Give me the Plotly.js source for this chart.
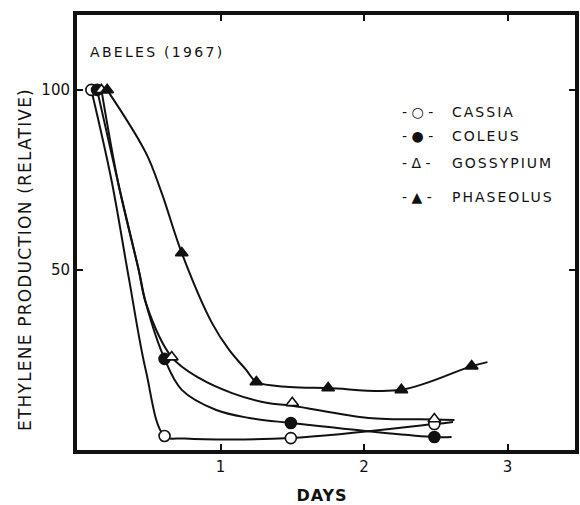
<!DOCTYPE html>
<html>
<head>
<meta charset="utf-8">
<script src="https://cdn.plot.ly/plotly-3.0.1.min.js"></script>
<style>
  html, body { margin: 0; padding: 0; background: #fff; }
  #chart { width: 580px; height: 505px; }
</style>
</head>
<body>
<div id="chart"></div>
<script>
// ---- Data (Abeles 1967) ----
// Measured points (markers)
const cassiaDays      = [0.10, 0.61, 1.49, 2.49];
const cassiaEthylene  = [100, 3.9, 3.3, 7.2];
const coleusDays      = [0.14, 0.61, 1.49, 2.49];
const coleusEthylene  = [100, 25.3, 7.5, 3.6];
const gossypDays      = [0.17, 0.66, 1.50, 2.49];
const gossypEthylene  = [100, 25.8, 13.1, 8.6];
const phaseolDays     = [0.21, 0.73, 1.25, 1.75, 2.26, 2.75];
const phaseolEthylene = [100, 54.7, 18.9, 17.2, 16.7, 23.3];

// Hand-drawn fitted curves
const cassiaCurveDays      = [0.10, 0.24, 0.36, 0.48, 0.61, 0.75, 1.49, 2.49, 2.62];
const cassiaCurveEthylene  = [100, 75, 48, 22, 3.9, 3.2, 3.3, 7.2, 7.8];
const coleusCurveDays      = [0.14, 0.29, 0.43, 0.48, 0.61, 0.73, 0.97, 1.20, 1.49, 2.49, 2.61];
const coleusCurveEthylene  = [100, 73.6, 50, 40.8, 25.3, 16.7, 11.1, 8.9, 7.5, 3.6, 3.6];
const gossypCurveDays      = [0.17, 0.29, 0.43, 0.48, 0.66, 0.85, 1.08, 1.32, 1.50, 2.03, 2.49, 2.63];
const gossypCurveEthylene  = [100, 73.6, 50, 40.8, 25.8, 20, 15.8, 13.1, 12.3, 8.9, 8.5, 8.3];
const phaseolCurveDays     = [0.21, 0.48, 0.59, 0.73, 0.94, 1.06, 1.18, 1.25, 1.48, 1.75, 2.26, 2.75, 2.86];
const phaseolCurveEthylene = [100, 82.5, 71.4, 54.7, 35.3, 27.8, 22.2, 18.9, 17.5, 17.2, 16.7, 23.3, 24.4];

// Tick labels
const xTickVals = [1, 2, 3];
const xTickText = ['1', '2', '3'];
const yTickVals = [50, 100];
const yTickText = ['50', '100'];

// Legend labels
const speciesNames   = ['CASSIA', 'COLEUS', 'GOSSYPIUM', 'PHASEOLUS'];
const speciesSymbols = ['- ○ -', '- ● -', '- Δ -', '- ▲ -'];

const INK = '#111';
const FONT = 'DejaVu Sans, sans-serif';

function curve(x, y) {
  return { x: x, y: y, mode: 'lines', type: 'scatter', hoverinfo: 'skip',
           line: { color: INK, width: 2, shape: 'spline', smoothing: 1 }, showlegend: false };
}
function pts(x, y, symbol, fill, name) {
  return { x: x, y: y, mode: 'markers', type: 'scatter', name: name, showlegend: false,
           marker: { symbol: symbol, size: 11, color: fill, line: { color: INK, width: 1.6 } } };
}

const traces = [
  curve(cassiaCurveDays, cassiaCurveEthylene),
  curve(coleusCurveDays, coleusCurveEthylene),
  curve(gossypCurveDays, gossypCurveEthylene),
  curve(phaseolCurveDays, phaseolCurveEthylene),
  pts(cassiaDays, cassiaEthylene, 'circle', '#fff', speciesNames[0]),
  pts(coleusDays, coleusEthylene, 'circle', INK, speciesNames[1]),
  pts(gossypDays, gossypEthylene, 'triangle-up', '#fff', speciesNames[2]),
  pts(phaseolDays, phaseolEthylene, 'triangle-up', INK, speciesNames[3])
];

const legendY = [0.777, 0.722, 0.660, 0.582];
const annotations = [
  { xref: 'paper', yref: 'paper', x: 0.022, y: 0.915, xanchor: 'left', yanchor: 'middle',
    text: 'ABELES (1967)', showarrow: false, font: { family: FONT, size: 14, color: INK } }
];
speciesNames.forEach((n, i) => {
  annotations.push({ xref: 'paper', yref: 'paper', x: 0.649, y: legendY[i], xanchor: 'left', yanchor: 'middle',
    text: speciesSymbols[i], showarrow: false, font: { family: FONT, size: 14, color: INK } });
  annotations.push({ xref: 'paper', yref: 'paper', x: 0.749, y: legendY[i], xanchor: 'left', yanchor: 'middle',
    text: n, showarrow: false, font: { family: FONT, size: 14, color: INK } });
});

const layout = {
  width: 580, height: 505,
  margin: { l: 77, r: 5, t: 15, b: 55 },
  paper_bgcolor: '#fff', plot_bgcolor: '#fff',
  showlegend: false,
  font: { family: FONT, color: INK },
  xaxis: {
    range: [0, 3.47], tickvals: xTickVals, ticktext: xTickText,
    ticks: 'inside', ticklen: 6, tickwidth: 2, tickcolor: INK,
    showline: true, linewidth: 4, linecolor: INK, mirror: 'ticks',
    showgrid: false, zeroline: false,
    tickfont: { family: FONT, size: 15, color: INK },
    title: { text: '<b>DAYS</b>', font: { family: FONT, size: 16, color: INK }, standoff: 23 }
  },
  yaxis: {
    range: [0, 120.8], tickvals: yTickVals, ticktext: yTickText,
    ticks: 'inside', ticklen: 6, tickwidth: 2, tickcolor: INK,
    showline: true, linewidth: 4, linecolor: INK, mirror: 'ticks',
    showgrid: false, zeroline: false,
    tickfont: { family: FONT, size: 15, color: INK },
    title: { text: 'ETHYLENE PRODUCTION (RELATIVE)', font: { family: FONT, size: 17, color: INK }, standoff: 6 }
  },
  annotations: annotations
};

function spaceText(el, ls) {
  const b1 = el.getBBox();
  el.style.letterSpacing = ls + 'px';
  const b2 = el.getBBox();
  const dx = b1.x - b2.x;
  const tr = el.getAttribute('transform') || '';
  el.setAttribute('transform', 'translate(' + dx + ',0) ' + tr);
}

Plotly.newPlot('chart', traces, layout, { displayModeBar: false, staticPlot: true }).then(() => {
  document.querySelectorAll('.annotation-text').forEach(t => {
    const txt = t.textContent;
    if (txt.indexOf('ABELES') === 0) spaceText(t, 2.3);
    else if (speciesNames.indexOf(txt) >= 0) spaceText(t, 2);
  });
  const yt = document.querySelector('.ytitle');
  if (yt) {
    yt.style.letterSpacing = '1.2px';
    yt.setAttribute('transform', 'translate(0,27) ' + (yt.getAttribute('transform') || ''));
  }
  const xt = document.querySelector('.xtitle');
  if (xt) {
    xt.style.letterSpacing = '1px';
    xt.setAttribute('transform', 'translate(-4,0) ' + (xt.getAttribute('transform') || ''));
  }
});
</script>
</body>
</html>
